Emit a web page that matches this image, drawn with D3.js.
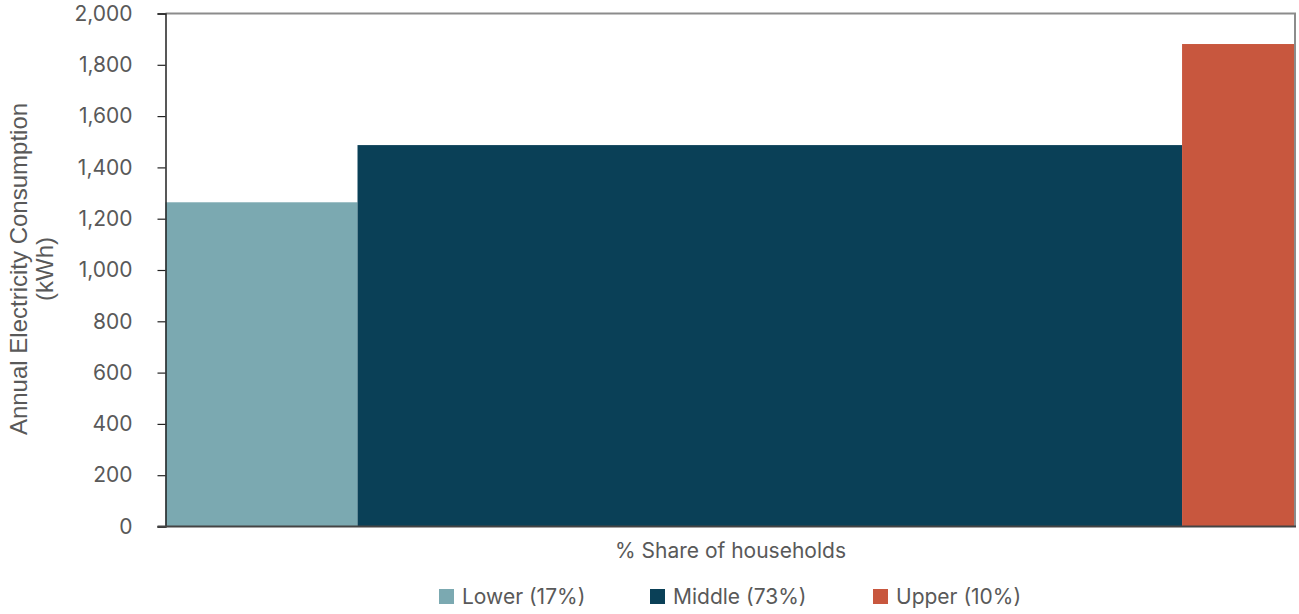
<!DOCTYPE html>
<html>
<head>
<meta charset="utf-8">
<script src="https://cdn.jsdelivr.net/npm/d3@7"></script>
<style>
  html, body { margin: 0; padding: 0; background: #fff; }
  svg { display: block; }
  text { font-family: Inter, "Noto Sans", sans-serif; fill: #595959; }
</style>
</head>
<body>
<svg id="chart" width="1299" height="614"></svg>
<script>
// Household groups, their share of households (bar widths) and annual consumption (bar heights)
const groups = ["Lower (17%)", "Middle (73%)", "Upper (10%)"];
const shares = [17, 73, 10];
const consumption = [1264, 1487, 1881];
const colors = ["#7BA9B1", "#0A4057", "#C8573E"];
const yTicks = [0, 200, 400, 600, 800, 1000, 1200, 1400, 1600, 1800, 2000];

const svg = d3.select("#chart");
const margin = { left: 165.5, right: 4, top: 13.5, bottom: 87.5 };
const W = 1299, H = 614;

// Cumulative share gives each bar's start and end on the x axis
const starts = d3.cumsum([0, ...shares]);
const x = d3.scaleLinear().domain([0, d3.sum(shares)]).range([margin.left, W - margin.right]);
const y = d3.scaleLinear().domain([0, 2000]).range([H - margin.bottom, margin.top]);

// Bars
svg.append("g").selectAll("rect")
  .data(groups)
  .join("rect")
  .attr("x", (d, i) => x(starts[i]))
  .attr("width", (d, i) => x(starts[i + 1]) - x(starts[i]))
  .attr("y", (d, i) => y(consumption[i]))
  .attr("height", (d, i) => y(0) - y(consumption[i]))
  .attr("fill", (d, i) => colors[i]);

// Top and right frame of the plot area
svg.append("path")
  .attr("d", `M${x(0)},${y(2000)}H${x(100)}V${y(0)}`)
  .attr("fill", "none")
  .attr("stroke", "#8c8c8c")
  .attr("stroke-width", 2);

// Y axis
const yAxis = d3.axisLeft(y)
  .tickValues(yTicks)
  .tickFormat(d3.format(","))
  .tickSize(8)
  .tickPadding(25);
const gy = svg.append("g").attr("transform", `translate(${x(0)},0)`).call(yAxis);
gy.select(".domain").attr("stroke", "#222").attr("stroke-width", 1.5);
gy.selectAll(".tick line").attr("stroke", "#222").attr("stroke-width", 1.2);
gy.selectAll(".tick text")
  .style("font-family", "Inter, sans-serif")
  .style("font-size", "21px")
  .attr("fill", "#595959");

// Baseline
svg.append("line")
  .attr("x1", x(0) - 8).attr("x2", x(100) + 1)
  .attr("y1", y(0)).attr("y2", y(0))
  .attr("stroke", "#444").attr("stroke-width", 2);

// Y axis title
const yTitle = svg.append("text")
  .attr("transform", `translate(27,269) rotate(-90)`)
  .attr("text-anchor", "middle")
  .style("font-family", "'Liberation Sans', Arial, sans-serif")
  .style("font-size", "24px");
yTitle.append("tspan").attr("x", 0).attr("dy", 0).text("Annual Electricity Consumption");
yTitle.append("tspan").attr("x", 0).attr("dy", 26).text("(kWh)");

// X axis title
svg.append("text")
  .attr("x", 730.5).attr("y", 558)
  .attr("text-anchor", "middle")
  .style("font-size", "21px")
  .text("% Share of households");

// Legend
const legendX = [439, 650, 873];
const legend = svg.append("g").selectAll("g")
  .data(groups)
  .join("g")
  .attr("transform", (d, i) => `translate(${legendX[i]},589)`);
legend.append("rect")
  .attr("width", 15).attr("height", 15)
  .attr("fill", (d, i) => colors[i]);
legend.append("text")
  .attr("x", 23).attr("y", 15)
  .style("font-size", "21px")
  .text(d => d);
</script>
</body>
</html>
